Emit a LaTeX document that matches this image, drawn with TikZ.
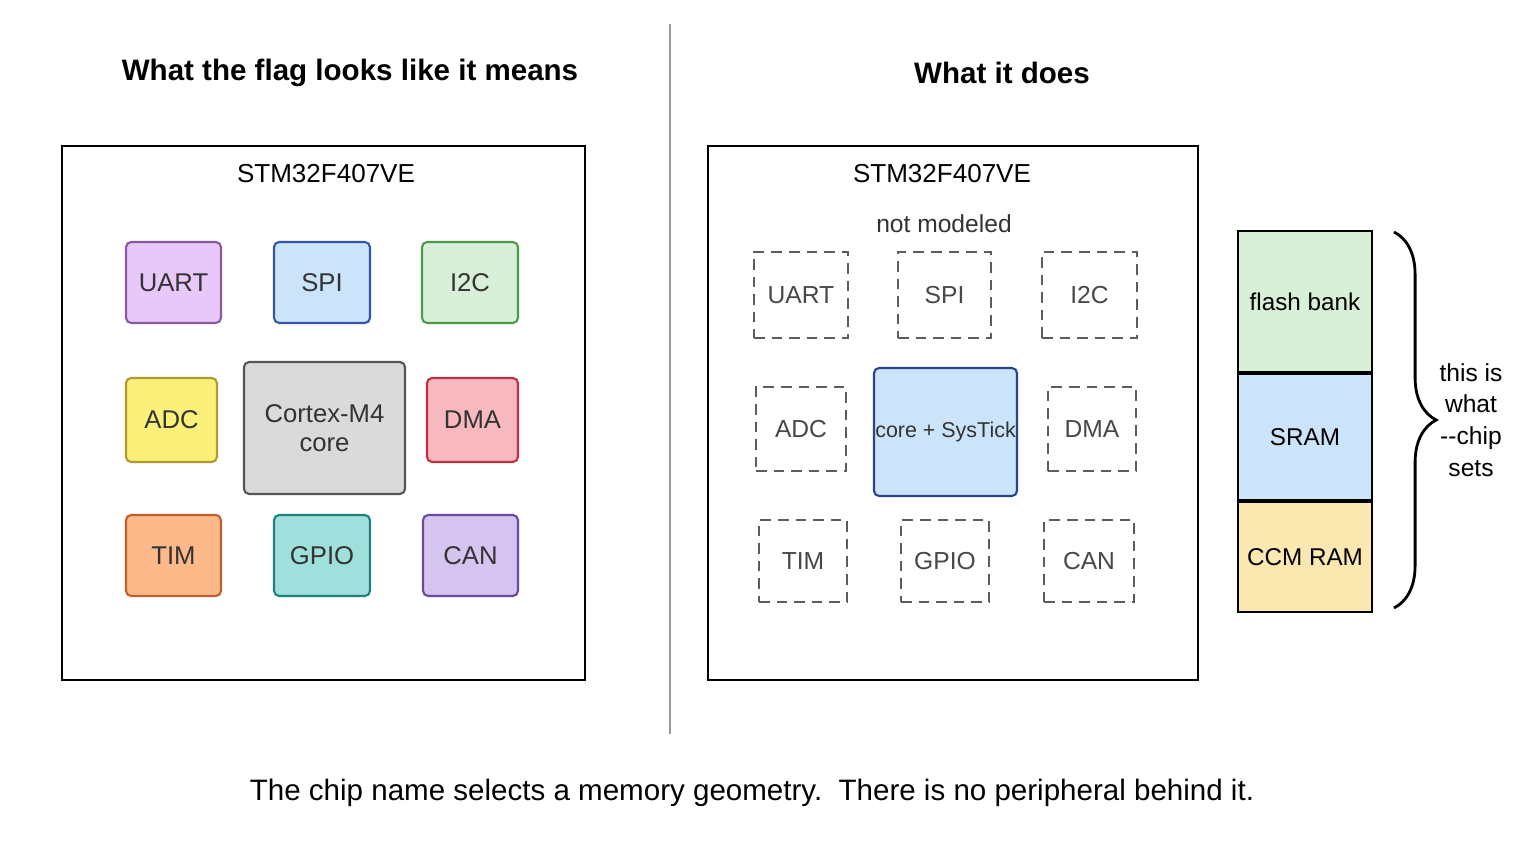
\documentclass[tikz,border=0pt]{standalone}
\usepackage{fontspec}
\setmainfont{Liberation Sans}
\usetikzlibrary{decorations.pathreplacing}
\definecolor{uartc}{HTML}{E8C8F8}\definecolor{uartd}{HTML}{8A5AA0}
\definecolor{spic}{HTML}{CCE4FA}\definecolor{spid}{HTML}{3355AA}
\definecolor{iic}{HTML}{D8F0D8}\definecolor{iid}{HTML}{4A9A4A}
\definecolor{adcc}{HTML}{FAF07A}\definecolor{adcd}{HTML}{B09A30}
\definecolor{corec}{HTML}{DADADA}\definecolor{cored}{HTML}{555555}
\definecolor{dmac}{HTML}{F8B8C0}\definecolor{dmad}{HTML}{C03040}
\definecolor{timc}{HTML}{FDB98A}\definecolor{timd}{HTML}{C06030}
\definecolor{gpioc}{HTML}{A0E0DC}\definecolor{gpiod}{HTML}{208080}
\definecolor{canc}{HTML}{D6C4F0}\definecolor{cand}{HTML}{6A4AA0}
\definecolor{memg}{HTML}{D8F0D8}\definecolor{memb}{HTML}{CCE4FA}\definecolor{memy}{HTML}{FBE8B0}
\definecolor{txt}{HTML}{333333}
\tikzset{
  blk/.style={draw, rounded corners=1.5pt, line width=0.6pt, text=txt, font=\fontsize{7.3}{8.4}\selectfont, align=center, inner sep=0pt},
  ghost/.style={draw=txt!80, dashed, dash pattern=on 3pt off 2pt, line width=0.5pt, text=txt!90, font=\fontsize{7}{8}\selectfont, inner sep=0pt},
  frame/.style={draw, line width=0.8pt},
  ttl/.style={font=\bfseries\fontsize{8.4}{10}\selectfont},
  mem/.style={draw, line width=0.6pt, font=\fontsize{6.9}{8}\selectfont, inner sep=0pt, minimum width=1.34cm}
}
\begin{document}
\begin{tikzpicture}[x=0.01cm, y=-0.01cm]
\useasboundingbox (0,0) rectangle (1536,864);
% titles and divider
\node[ttl] (lt) at (350,73) {What the flag looks like it means};
\node[ttl] (rt) at (1002,73) {What it does};
\draw[gray!80, line width=0.6pt] (670,24) -- (670,734);
% left chip
\draw[frame] (62,146) rectangle (585,680);
\node[font=\fontsize{7.4}{9}\selectfont] (lchip) at (326,174) {STM32F407VE};
\node[blk, fill=uartc, draw=uartd, minimum width=0.95cm, minimum height=0.81cm] (luart) at (173.5,282.5) {UART};
\node[blk, fill=spic, draw=spid, minimum width=0.96cm, minimum height=0.81cm] (lspi) at (322,282.5) {SPI};
\node[blk, fill=iic, draw=iid, minimum width=0.96cm, minimum height=0.81cm] (li2c) at (470,282.5) {I2C};
\node[blk, fill=adcc, draw=adcd, minimum width=0.91cm, minimum height=0.84cm] (ladc) at (171.5,420) {ADC};
\node[blk, fill=corec, draw=cored, minimum width=1.61cm, minimum height=1.32cm] (lcore) at (324.5,428) {Cortex-M4\\core};
\node[blk, fill=dmac, draw=dmad, minimum width=0.91cm, minimum height=0.84cm] (ldma) at (472.5,420) {DMA};
\node[blk, fill=timc, draw=timd, minimum width=0.95cm, minimum height=0.81cm] (ltim) at (173.5,555.5) {TIM};
\node[blk, fill=gpioc, draw=gpiod, minimum width=0.96cm, minimum height=0.81cm] (lgpio) at (322,555.5) {GPIO};
\node[blk, fill=canc, draw=cand, minimum width=0.95cm, minimum height=0.81cm] (lcan) at (470.5,555.5) {CAN};
% right chip
\draw[frame] (708,146) rectangle (1198,680);
\node[font=\fontsize{7.4}{9}\selectfont] (rchip) at (942,174) {STM32F407VE};
\node[font=\fontsize{7}{8}\selectfont, text=txt] (nm) at (944,224) {not modeled};
\node[ghost, minimum width=0.94cm, minimum height=0.86cm] (ruart) at (801,295) {UART};
\node[ghost, minimum width=0.93cm, minimum height=0.86cm] (rspi) at (944.5,295) {SPI};
\node[ghost, minimum width=0.95cm, minimum height=0.86cm] (ri2c) at (1089.5,295) {I2C};
\node[ghost, minimum width=0.90cm, minimum height=0.84cm] (radc) at (801,429) {ADC};
\node[blk, fill=spic, draw=spid!80!black, minimum width=1.43cm, minimum height=1.28cm, font=\fontsize{6.1}{7}\selectfont] (rcore) at (945.5,432) {core + SysTick};
\node[ghost, minimum width=0.88cm, minimum height=0.84cm] (rdma) at (1092,429) {DMA};
\node[ghost, minimum width=0.88cm, minimum height=0.82cm] (rtim) at (803,561) {TIM};
\node[ghost, minimum width=0.88cm, minimum height=0.82cm] (rgpio) at (945,561) {GPIO};
\node[ghost, minimum width=0.90cm, minimum height=0.82cm] (rcan) at (1089,561) {CAN};
% memory geometry
\node[mem, fill=memg, minimum height=1.41cm] (flash) at (1305,301.5) {flash bank};
\node[mem, fill=memb, minimum height=1.26cm, anchor=north] (sram) at (flash.south) {SRAM};
\node[mem, fill=memy, minimum height=1.10cm, anchor=north] (ccm) at (sram.south) {CCM RAM};
\coordinate (bt) at (1394,232);
\coordinate (bb) at (1394,608);
\draw[line width=0.8pt, decorate, decoration={brace, amplitude=12pt}] (bt) -- (bb);
\node[font=\fontsize{7}{9}\selectfont, align=center] (note) at (1471,420) {this is\\what\\{-}{-}chip\\sets};
% caption
\node[font=\fontsize{8.4}{10}\selectfont] (cap) at (752,793) {The chip name selects a memory geometry.\ \ There is no peripheral behind it.};
\end{tikzpicture}
\end{document}
